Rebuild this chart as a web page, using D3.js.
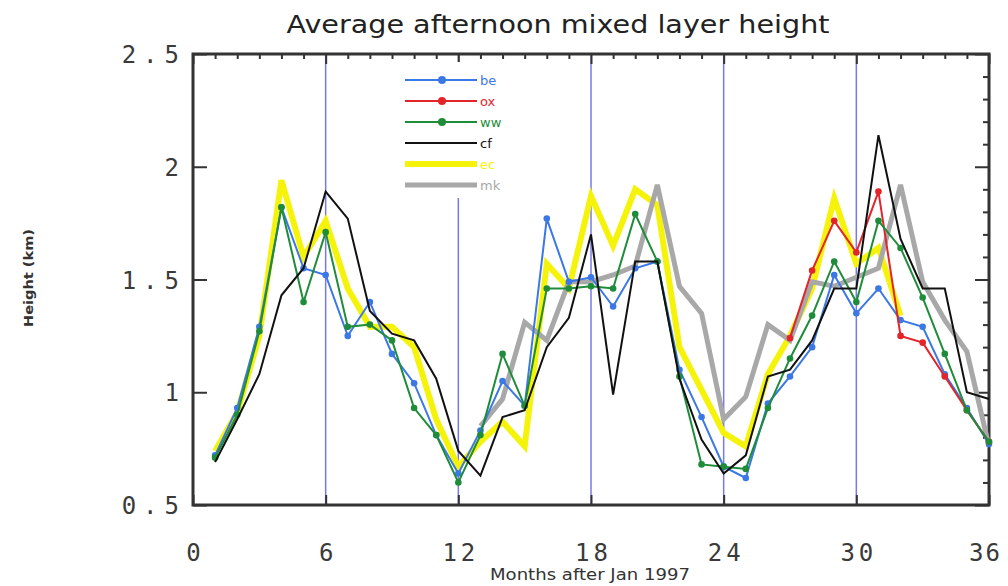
<!DOCTYPE html>
<html lang="en">
<head>
<meta charset="UTF-8">
<title>Average afternoon mixed layer height</title>
<script src="https://cdn.jsdelivr.net/npm/d3@7"></script>
<style>
    body { margin: 0; padding: 0; background: #fff; }
    svg { display: block; background: #fff; }
    .tick-num { font-family: "DejaVu Sans Mono", monospace; font-size: 24px; fill: #3a3a3a; }
    .legend-label { font-family: "DejaVu Sans", sans-serif; font-size: 13px; }
</style>
</head>
<body>
<svg id="chart" width="1008" height="586"></svg>
<script>
// months after Jan 1997
const months = [1, 2, 3, 4, 5, 6, 7, 8, 9, 10, 11, 12, 13, 14, 15, 16, 17, 18,
                19, 20, 21, 22, 23, 24, 25, 26, 27, 28, 29, 30, 31, 32, 33, 34, 35, 36];

// afternoon mixed layer height (km)
const be = [0.72, 0.93, 1.29, 1.82, 1.55, 1.52, 1.25, 1.40, 1.17, 1.04, 0.81, 0.64,
            0.83, 1.05, 0.94, 1.77, 1.49, 1.51, 1.38, 1.55, 1.58, 1.10, 0.89, 0.67,
            0.62, 0.95, 1.07, 1.20, 1.52, 1.35, 1.46, 1.32, 1.29, 1.08, 0.93, 0.77];
const ox = [null, null, null, null, null, null, null, null, null, null, null, null,
            null, null, null, null, null, null, null, null, null, null, null, null,
            null, null, 1.24, 1.54, 1.76, 1.62, 1.89, 1.25, 1.22, 1.07, 0.92, 0.78];
const ww = [0.71, 0.90, 1.27, 1.82, 1.40, 1.71, 1.29, 1.30, 1.23, 0.93, 0.81, 0.60,
            0.81, 1.17, 0.94, 1.46, 1.46, 1.47, 1.46, 1.79, 1.58, 1.07, 0.68, 0.67,
            0.66, 0.93, 1.15, 1.34, 1.58, 1.40, 1.76, 1.64, 1.42, 1.17, 0.92, 0.78];
const cf = [0.69, 0.88, 1.08, 1.43, 1.55, 1.89, 1.77, 1.36, 1.26, 1.23, 1.06, 0.74,
            0.63, 0.89, 0.92, 1.20, 1.33, 1.70, 0.99, 1.58, 1.58, 1.06, 0.79, 0.64,
            0.72, 1.07, 1.10, 1.23, 1.46, 1.46, 2.14, 1.68, 1.46, 1.46, 1.00, 0.97];
const ec = [0.74, 0.91, 1.25, 1.94, 1.60, 1.76, 1.46, 1.29, 1.29, 1.20, 0.88, 0.67,
            0.78, 0.87, 0.76, 1.57, 1.46, 1.87, 1.65, 1.90, 1.83, 1.20, 1.01, 0.82,
            0.76, 1.08, 1.25, 1.46, 1.86, 1.57, 1.64, 1.34, null, null, null, null];
const mk = [null, null, null, null, null, null, null, null, null, null, null, null,
            0.85, 0.97, 1.31, 1.23, 1.49, 1.49, 1.52, 1.56, 1.92, 1.47, 1.35, 0.88,
            0.98, 1.30, 1.23, 1.49, 1.47, 1.51, 1.55, 1.92, 1.49, 1.32, 1.18, 0.76];

const xTicks = [0, 6, 12, 18, 24, 30, 36];
const yTicks = [0.5, 1, 1.5, 2, 2.5];
const yearMarks = [6, 12, 18, 24, 30];

const svg = d3.select('#chart');
const margin = { left: 193, right: 989, top: 54, bottom: 505 };

const x = d3.scaleLinear().domain([0, 36]).range([margin.left, margin.right]);
const y = d3.scaleLinear().domain([0.5, 2.5]).range([margin.bottom, margin.top]);

// title
svg.append('text')
    .attr('x', 558).attr('y', 33)
    .attr('text-anchor', 'middle')
    .attr('textLength', 543).attr('lengthAdjust', 'spacingAndGlyphs')
    .style('font-family', '"DejaVu Sans", sans-serif')
    .style('font-size', '25px')
    .style('fill', '#222')
    .text('Average afternoon mixed layer height');

// axis titles
svg.append('text')
    .attr('x', 590).attr('y', 580)
    .attr('text-anchor', 'middle')
    .attr('textLength', 200).attr('lengthAdjust', 'spacingAndGlyphs')
    .style('font-family', '"DejaVu Sans", sans-serif')
    .style('font-size', '15px')
    .style('fill', '#333')
    .text('Months after Jan 1997');

svg.append('text')
    .attr('transform', 'translate(33,278) rotate(-90)')
    .attr('text-anchor', 'middle')
    .attr('textLength', 98).attr('lengthAdjust', 'spacingAndGlyphs')
    .style('font-family', '"DejaVu Sans", sans-serif')
    .style('font-size', '13px')
    .style('font-weight', 'bold')
    .style('fill', '#333')
    .text('Height (km)');

// vertical year markers
svg.append('g').selectAll('line')
    .data(yearMarks)
    .join('line')
    .attr('x1', d => x(d)).attr('x2', d => x(d))
    .attr('y1', y(2.5)).attr('y2', y(0.5))
    .attr('stroke', '#7878e8')
    .attr('stroke-width', 1.5);

// axes (ticks inward, labels outside)
const axisStyle = g => {
    g.select('.domain').remove();
    g.selectAll('.tick line').attr('stroke', '#333').attr('stroke-width', 2);
};

svg.append('g')
    .attr('transform', `translate(${margin.left},0)`)
    .call(d3.axisLeft(y).tickValues(yTicks).tickSize(-14).tickFormat(d => String(d)))
    .call(axisStyle)
    .call(g => g.selectAll('.tick text')
        .attr('class', 'tick-num')
        .attr('x', -7)
        .attr('dy', '0.36em')
        .style('letter-spacing', '7px')
        .attr('font-size', null).attr('font-family', null));

svg.append('g')
    .attr('transform', `translate(0,${margin.bottom})`)
    .call(d3.axisBottom(x).tickValues(xTicks).tickSize(-10).tickFormat(d => String(d)))
    .call(axisStyle)
    .call(g => g.selectAll('.tick text')
        .attr('class', 'tick-num')
        .attr('y', 56).attr('dy', null)
        .attr('dx', d => d === 36 ? -4 : 2)
        .style('letter-spacing', d => d === 36 ? '2px' : '4px')
        .attr('font-size', null).attr('font-family', null));

svg.append('g')
    .attr('transform', `translate(0,${margin.top})`)
    .call(d3.axisTop(x).tickValues(d3.range(0, 37)).tickSize(-5).tickFormat(''))
    .call(axisStyle)
    .call(g => g.selectAll('.tick line').attr('y2', d => d % 6 === 0 ? 10 : 5));

svg.append('g')
    .attr('transform', `translate(${margin.right},0)`)
    .call(d3.axisRight(y).tickValues(d3.range(5, 26).map(d => d / 10)).tickSize(-6).tickFormat(''))
    .call(axisStyle)
    .call(g => g.selectAll('.tick line').attr('x2', d => Math.round(d * 10) % 5 === 0 ? -14 : -6));

// frame
svg.append('rect')
    .attr('x', margin.left).attr('y', margin.top)
    .attr('width', margin.right - margin.left)
    .attr('height', margin.bottom - margin.top)
    .attr('fill', 'none')
    .attr('stroke', '#333')
    .attr('stroke-width', 3);

// series: thick ones first so the thin ones stay visible
const series = [
    { name: 'ec', values: ec, color: '#f6f30a', width: 6, dots: false },
    { name: 'mk', values: mk, color: '#a8a8a8', width: 5, dots: false },
    { name: 'be', values: be, color: '#3b78e6', width: 2, dots: true },
    { name: 'ox', values: ox, color: '#e3252a', width: 2, dots: true },
    { name: 'ww', values: ww, color: '#1f8c3a', width: 2, dots: true },
    { name: 'cf', values: cf, color: '#111111', width: 2, dots: false }
];

const line = d3.line()
    .defined(d => d.v !== null)
    .x(d => x(d.m))
    .y(d => y(d.v));

series.forEach(s => {
    const pts = months.map((m, i) => ({ m: m, v: s.values[i] }));
    svg.append('path')
        .datum(pts)
        .attr('d', line)
        .attr('fill', 'none')
        .attr('stroke', s.color)
        .attr('stroke-width', s.width)
        .attr('stroke-linejoin', 'miter');
    if (s.dots) {
        svg.append('g').selectAll('circle')
            .data(pts.filter(d => d.v !== null))
            .join('circle')
            .attr('cx', d => x(d.m))
            .attr('cy', d => y(d.v))
            .attr('r', 3.3)
            .attr('fill', s.color);
    }
});

// legend (white box hides the month-12 marker behind it)
const legendOrder = ['be', 'ox', 'ww', 'cf', 'ec', 'mk'];
const legend = svg.append('g');
legend.append('rect')
    .attr('x', 398).attr('y', 62)
    .attr('width', 122).attr('height', 136)
    .attr('fill', '#fff');

legendOrder.forEach((name, i) => {
    const s = series.find(d => d.name === name);
    const ly = 80 + i * 21;
    legend.append('line')
        .attr('x1', 405).attr('x2', 477)
        .attr('y1', ly).attr('y2', ly)
        .attr('stroke', s.color)
        .attr('stroke-width', s.width);
    if (s.dots) {
        legend.append('circle')
            .attr('cx', 442).attr('cy', ly).attr('r', 4)
            .attr('fill', s.color);
    }
    legend.append('text')
        .attr('class', 'legend-label')
        .attr('x', 480).attr('y', ly + 5)
        .style('fill', s.color)
        .text(name);
});
</script>
</body>
</html>
